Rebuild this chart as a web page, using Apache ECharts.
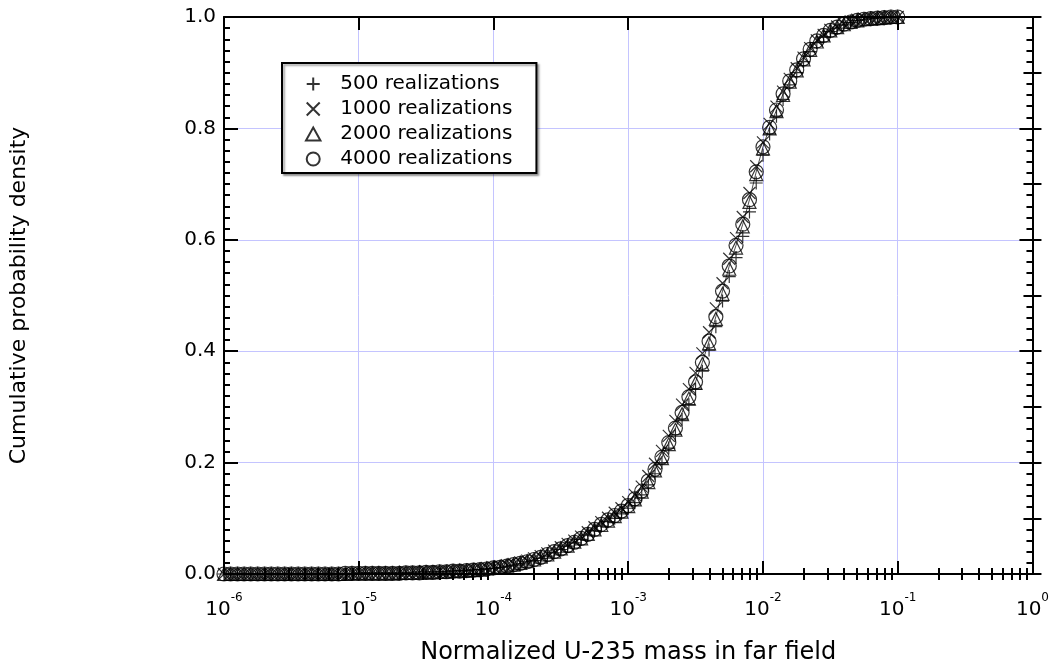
<!DOCTYPE html>
<html><head><meta charset="utf-8">
<script src="https://cdn.jsdelivr.net/npm/echarts@6/dist/echarts.min.js"></script>
<style>html,body{margin:0;padding:0;background:#fff}#c{width:1052px;height:670px}</style>
</head><body><div id="c"></div>
<script>
// shared x positions (normalized U-235 mass), 20 per decade
const xValues = [
1.00e-6,1.12e-6,1.26e-6,1.41e-6,1.58e-6,1.78e-6,2.00e-6,2.24e-6,2.51e-6,2.82e-6,3.16e-6,3.55e-6,3.98e-6,4.47e-6,5.01e-6,5.62e-6,6.31e-6,7.08e-6,7.94e-6,8.91e-6,
1.00e-5,1.12e-5,1.26e-5,1.41e-5,1.58e-5,1.78e-5,2.00e-5,2.24e-5,2.51e-5,2.82e-5,3.16e-5,3.55e-5,3.98e-5,4.47e-5,5.01e-5,5.62e-5,6.31e-5,7.08e-5,7.94e-5,8.91e-5,
1.00e-4,1.12e-4,1.26e-4,1.41e-4,1.58e-4,1.78e-4,2.00e-4,2.24e-4,2.51e-4,2.82e-4,3.16e-4,3.55e-4,3.98e-4,4.47e-4,5.01e-4,5.62e-4,6.31e-4,7.08e-4,7.94e-4,8.91e-4,
1.00e-3,1.12e-3,1.26e-3,1.41e-3,1.58e-3,1.78e-3,2.00e-3,2.24e-3,2.51e-3,2.82e-3,3.16e-3,3.55e-3,3.98e-3,4.47e-3,5.01e-3,5.62e-3,6.31e-3,7.08e-3,7.94e-3,8.91e-3,
1.00e-2,1.12e-2,1.26e-2,1.41e-2,1.58e-2,1.78e-2,2.00e-2,2.24e-2,2.51e-2,2.82e-2,3.16e-2,3.55e-2,3.98e-2,4.47e-2,5.01e-2,5.62e-2,6.31e-2,7.08e-2,7.94e-2,8.91e-2,
1.00e-1
];
const s500 = [
0,0,0,0,0,0,0,0,0,0,
0,0,0,0,0,0,0,0,0,0,
0.002,0.002,0.002,0.002,0.002,0.002,0.002,0.002,0.002,0.004,
0.004,0.004,0.004,0.004,0.006,0.006,0.006,0.008,0.008,0.010,
0.010,0.012,0.014,0.016,0.018,0.022,0.024,0.028,0.032,0.038,
0.044,0.050,0.056,0.062,0.070,0.078,0.086,0.094,0.100,0.108,
0.118,0.128,0.142,0.160,0.180,0.200,0.226,0.250,0.278,0.304,
0.332,0.364,0.402,0.444,0.490,0.534,0.568,0.606,0.650,0.702,
0.752,0.790,0.822,0.852,0.878,0.900,0.920,0.938,0.954,0.964,
0.974,0.980,0.986,0.990,0.994,0.996,0.998,0.998,1.000,1.000,
1.000
];
const s1000 = [
0,0,0,0,0,0,0,0,0,0,
0,0,0,0,0,0,0,0,0.001,0.001,
0.001,0.001,0.002,0.002,0.002,0.002,0.002,0.003,0.003,0.003,
0.004,0.004,0.005,0.005,0.006,0.006,0.007,0.008,0.009,0.011,
0.012,0.014,0.016,0.018,0.021,0.024,0.028,0.032,0.037,0.042,
0.048,0.054,0.060,0.067,0.075,0.084,0.093,0.101,0.110,0.118,
0.129,0.142,0.157,0.176,0.198,0.221,0.248,0.275,0.304,0.332,
0.361,0.396,0.434,0.477,0.522,0.566,0.603,0.641,0.684,0.732,
0.775,0.808,0.839,0.866,0.889,0.908,0.927,0.944,0.958,0.968,
0.977,0.983,0.988,0.992,0.995,0.997,0.998,0.999,1.000,1.000,
1.000
];
const s2000 = [
0,0,0,0,0,0,0,0,0,0,
0,0,0,0,0,0,0,0,0,0.001,
0.001,0.001,0.001,0.001,0.001,0.001,0.002,0.002,0.002,0.003,
0.003,0.003,0.004,0.004,0.005,0.006,0.006,0.007,0.008,0.010,
0.011,0.013,0.015,0.017,0.020,0.023,0.026,0.031,0.035,0.040,
0.046,0.051,0.058,0.064,0.072,0.080,0.088,0.096,0.104,0.112,
0.122,0.134,0.148,0.165,0.186,0.208,0.233,0.259,0.287,0.315,
0.343,0.377,0.414,0.458,0.503,0.548,0.586,0.624,0.668,0.718,
0.764,0.800,0.831,0.860,0.884,0.904,0.924,0.941,0.956,0.967,
0.976,0.982,0.987,0.991,0.994,0.996,0.997,0.998,0.999,1.000,
1.000
];
const s4000 = [
0,0,0,0,0,0,0,0,0,0,
0,0,0,0,0,0,0,0,0.001,0.001,
0.001,0.001,0.001,0.001,0.001,0.001,0.001,0.002,0.002,0.002,
0.003,0.003,0.004,0.004,0.005,0.005,0.006,0.007,0.008,0.009,
0.011,0.012,0.014,0.017,0.019,0.022,0.026,0.030,0.035,0.040,
0.045,0.051,0.057,0.064,0.071,0.080,0.089,0.097,0.105,0.113,
0.123,0.135,0.149,0.167,0.188,0.210,0.236,0.262,0.290,0.318,
0.345,0.380,0.418,0.462,0.508,0.553,0.590,0.628,0.672,0.722,
0.767,0.802,0.833,0.862,0.885,0.905,0.925,0.942,0.957,0.967,
0.976,0.982,0.987,0.991,0.994,0.996,0.997,0.998,0.999,1.000,
1.000
];
const seriesNames = ['500 realizations','1000 realizations','2000 realizations','4000 realizations'];
const xTickExponents = [-6,-5,-4,-3,-2,-1,0];
const yTickLabels = ['0.0','0.2','0.4','0.6','0.8','1.0'];
const xTitle = 'Normalized U-235 mass in far field';
const yTitle = 'Cumulative probability density';

const FONT = 'DejaVu Sans';
const GRIDC = '#c4c4ff';
const minorExps = [];
for (let d = -6; d < 0; d++) for (let m = 2; m <= 9; m++) minorExps.push(d + Math.log10(m));

const chart = echarts.init(document.getElementById('c'), null, {renderer: 'canvas'});
const baseTick = (len, w) => ({show: true, inside: true, length: len, lineStyle: {color: '#000', width: w}});
const noLine = {show: false};
const noLabel = {show: false};
const noSplit = {show: false};

const sym = {
  plus: 'path://M0,5L10,5M5,0L5,10',
  cross: 'path://M0,0L10,10M0,10L10,0',
  tri: 'path://M5,0L10,9L0,9Z'
};
const mk = arr => xValues.map((x, i) => [x, arr[i]]);
const markerStyle = {color: 'rgba(0,0,0,0)', borderColor: '#000', borderWidth: 1.2};

chart.setOption({
  animation: false,
  backgroundColor: '#fff',
  grid: {left: 223, right: 18, top: 17, bottom: 94, containLabel: false},
  legend: {
    orient: 'vertical', left: 282, top: 63,
    padding: [11, 24, 4, 23], itemGap: 5, itemWidth: 44, itemHeight: 13,
    backgroundColor: '#fff', borderColor: '#000', borderWidth: 2,
    shadowColor: 'rgba(0,0,0,0.35)', shadowBlur: 2, shadowOffsetX: 2, shadowOffsetY: 2,
    textStyle: {fontFamily: FONT, fontSize: 20, color: '#000', lineHeight: 20},
    selectedMode: false,
    data: seriesNames
  },
  xAxis: [
    {type: 'log', logBase: 10, min: 1e-6, max: 1, position: 'bottom',
     axisLine: {show: true, onZero: false, lineStyle: {color: '#000', width: 2}},
     axisTick: baseTick(13, 2),
     splitLine: {show: true, lineStyle: {color: GRIDC, width: 1}},
     axisLabel: {margin: 18, formatter: v => '{b|10}{s|' + Math.round(Math.log10(v)) + '}',
       rich: {b: {fontFamily: FONT, fontSize: 20, color: '#000'},
              s: {fontFamily: FONT, fontSize: 12, color: '#000', padding: [0, 0, 24, 0]}}},
     name: xTitle, nameLocation: 'middle', nameGap: 67,
     nameTextStyle: {fontFamily: FONT, fontSize: 24, color: '#000'}},
    {type: 'log', logBase: 10, min: 1e-6, max: 1, position: 'top',
     axisLine: {show: true, onZero: false, lineStyle: {color: '#000', width: 2}},
     axisTick: baseTick(13, 2), axisLabel: noLabel, splitLine: noSplit},
    {type: 'value', min: -6, max: 0, position: 'bottom', axisLine: noLine,
     axisTick: Object.assign(baseTick(6, 2), {customValues: minorExps}),
     axisLabel: noLabel, splitLine: noSplit},
    {type: 'value', min: -6, max: 0, position: 'top', axisLine: noLine,
     axisTick: Object.assign(baseTick(6, 2), {customValues: minorExps}),
     axisLabel: noLabel, splitLine: noSplit}
  ],
  yAxis: [
    {type: 'value', min: 0, max: 1, interval: 0.2, position: 'left',
     axisLine: {show: true, onZero: false, lineStyle: {color: '#000', width: 2}},
     axisTick: baseTick(14, 2),
     minorTick: {show: true, splitNumber: 10, length: 6, lineStyle: {color: '#000', width: 2}},
     splitLine: {show: true, lineStyle: {color: GRIDC, width: 1}},
     axisLabel: {margin: 8, fontFamily: FONT, fontSize: 20, color: '#000',
       formatter: v => yTickLabels[Math.round(v / 0.2)]},
     name: yTitle, nameLocation: 'middle', nameGap: 194,
     nameTextStyle: {fontFamily: FONT, fontSize: 22, color: '#000'}},
    {type: 'value', min: 0, max: 1, interval: 0.1, position: 'left', axisLine: noLine,
     axisTick: baseTick(9, 2), axisLabel: noLabel, splitLine: noSplit},
    {type: 'value', min: 0, max: 1, interval: 0.2, position: 'right',
     axisLine: {show: true, onZero: false, lineStyle: {color: '#000', width: 2}},
     axisTick: baseTick(13, 2),
     minorTick: {show: true, splitNumber: 10, length: 6, lineStyle: {color: '#000', width: 2}},
     axisLabel: noLabel, splitLine: noSplit},
    {type: 'value', min: 0, max: 1, interval: 0.1, position: 'right', axisLine: noLine,
     axisTick: baseTick(9, 2), axisLabel: noLabel, splitLine: noSplit}
  ],
  series: [
    {name: seriesNames[0], type: 'scatter', data: mk(s500), symbol: sym.plus, symbolSize: 13,
     itemStyle: markerStyle, clip: false, emphasis: {disabled: true}},
    {name: seriesNames[1], type: 'scatter', data: mk(s1000), symbol: sym.cross, symbolSize: 12,
     itemStyle: markerStyle, clip: false, emphasis: {disabled: true}},
    {name: seriesNames[2], type: 'scatter', data: mk(s2000), symbol: sym.tri, symbolSize: 13,
     itemStyle: markerStyle, clip: false, emphasis: {disabled: true}},
    {name: seriesNames[3], type: 'scatter', data: mk(s4000), symbol: 'circle', symbolSize: 14,
     itemStyle: markerStyle, clip: false, emphasis: {disabled: true}},
    {name: 'curve', type: 'line', data: mk(s4000), showSymbol: false, symbol: 'none',
     lineStyle: {color: '#000', width: 0.7}, clip: false, silent: true, z: 1}
  ]
});
</script></body></html>
